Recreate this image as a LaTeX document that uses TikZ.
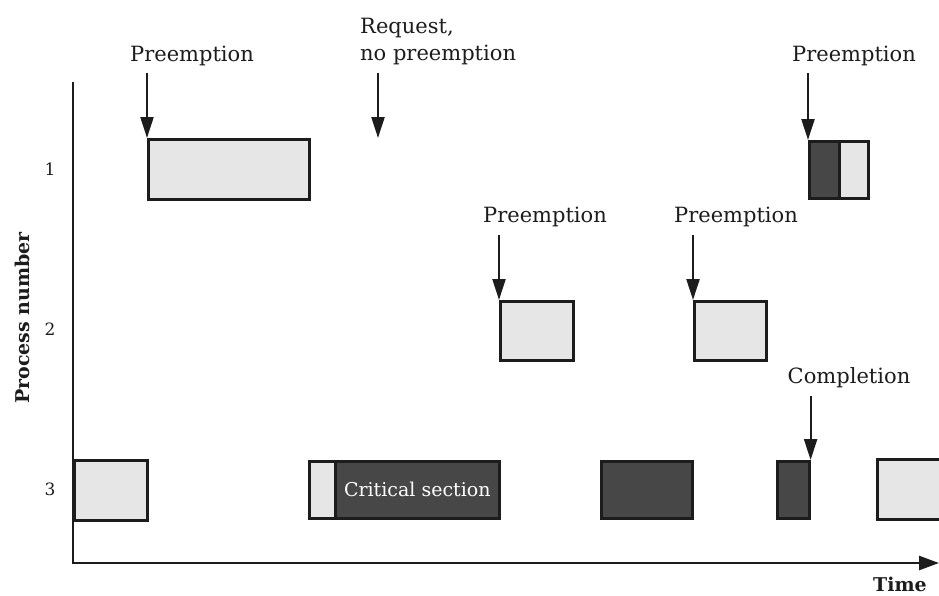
\documentclass[tikz,border=0pt]{standalone}
\usepackage{fontspec}
\setmainfont{DejaVu Serif}
\usetikzlibrary{arrows.meta}
\definecolor{lightfill}{HTML}{E6E6E6}
\definecolor{darkfill}{HTML}{474747}
\definecolor{ink}{HTML}{1C1C1C}
\begin{document}
\begin{tikzpicture}[x=1pt,y=-1pt,
  box/.style={draw=ink, line width=2.6pt, inner sep=0pt, anchor=north west},
  lightbox/.style={box, fill=lightfill},
  darkbox/.style={box, fill=darkfill},
  event/.style={font=\fontsize{21}{27}\selectfont, text=ink, inner sep=0pt, anchor=base},
  tick/.style={font=\fontsize{17}{20}\selectfont, text=ink, inner sep=0pt},
  axislabel/.style={font=\bfseries\fontsize{19}{22}\selectfont, text=ink, inner sep=0pt},
  marker/.style={draw=ink, line width=2.2pt, -{Triangle[width=13pt,length=21pt]}},
  axisline/.style={draw=ink, line width=2.6pt, -{Triangle[width=14pt,length=20pt]}}
]
\useasboundingbox (0,0) rectangle (939,595);

% axes
\coordinate (ytop) at (73,82);
\coordinate (origin) at (73,563);
\coordinate (xend) at (939,563);
\draw[axisline] (ytop) -- (origin) -- (xend);
\node[axislabel, rotate=90] (ylab) at (22,318) {Process number};
\node[axislabel, anchor=base] (tlab) at (900,591) {Time};

% process numbers
\node[tick] (n1) at (50,169) {1};
\node[tick] (n2) at (50,329) {2};
\node[tick] (n3) at (50,489) {3};

% process 1
\node[lightbox, minimum width=161, minimum height=60] (a1) at (147,138) {};
\node[darkbox, minimum width=30, minimum height=57] (a2) at (808,140) {};
\node[lightbox, minimum width=29, minimum height=57] (a3) at (838,140) {};

% process 2
\node[lightbox, minimum width=73, minimum height=59] (b1) at (499,300) {};
\node[lightbox, minimum width=72, minimum height=59] (b2) at (693,300) {};

% process 3
\node[lightbox, minimum width=73, minimum height=60] (c1) at (73,459) {};
\node[lightbox, minimum width=26, minimum height=57] (c2) at (308,460) {};
\node[darkbox, minimum width=164, minimum height=57, text=white,
      font=\fontsize{19}{22}\selectfont] (c3) at (334,460) {Critical section};
\node[darkbox, minimum width=91, minimum height=57] (c4) at (600,460) {};
\node[darkbox, minimum width=32, minimum height=57] (c5) at (776,460) {};
\node[lightbox, minimum width=80, minimum height=60] (c6) at (876,458) {};

% event labels
\node[event] (e1) at (192,61) {Preemption};
\node[event, anchor=north west, align=left] (e2) at (360,18) {Request,\\no preemption};
\node[event] (e3) at (854,61) {Preemption};
\node[event] (e4) at (545,222) {Preemption};
\node[event] (e5) at (736,222) {Preemption};
\node[event] (e6) at (849,383) {Completion};
\coordinate (req) at (378,138);

% event markers
\draw[marker] ([yshift=65pt]a1.north west) -- (a1.north west);
\draw[marker] ([yshift=65pt]req) -- (req);
\draw[marker] ([yshift=67pt]a2.north west) -- (a2.north west);
\draw[marker] ([yshift=65pt]b1.north west) -- (b1.north west);
\draw[marker] ([yshift=65pt]b2.north west) -- (b2.north west);
\draw[marker] ([yshift=64pt]c5.north east) -- (c5.north east);
\end{tikzpicture}
\end{document}
